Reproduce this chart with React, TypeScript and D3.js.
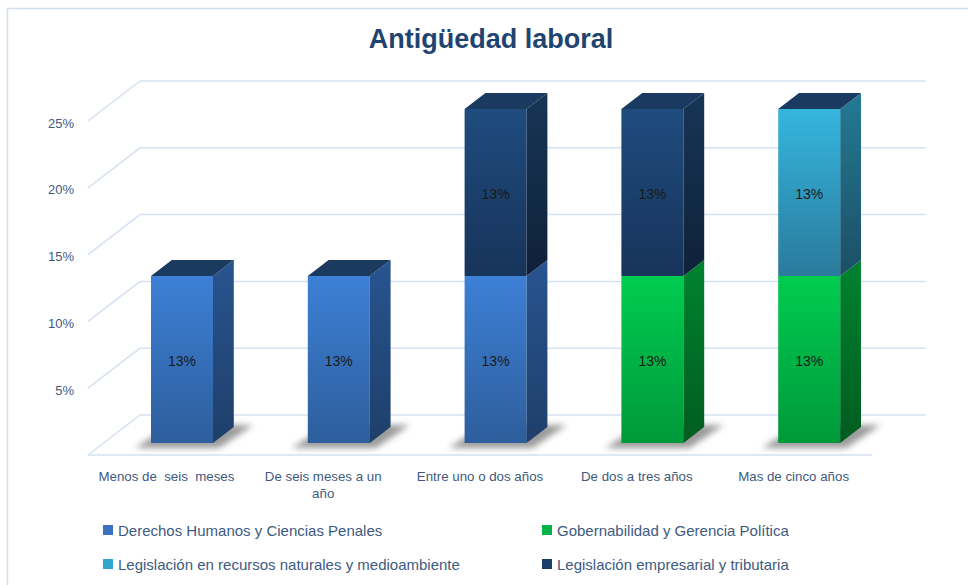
import React from "react";
import * as d3 from "d3";

const categories = [
  "Menos de  seis  meses",
  "De seis meses a un año",
  "Entre uno o dos años",
  "De dos a tres años",
  "Mas de cinco años",
];
const categoryLines = [
  ["Menos de  seis  meses"],
  ["De seis meses a un", "año"],
  ["Entre uno o dos años"],
  ["De dos a tres años"],
  ["Mas de cinco años"],
];
const seriesNames = [
  "Derechos Humanos y Ciencias Penales",
  "Gobernabilidad y Gerencia Política",
  "Legislación en recursos naturales y medioambiente",
  "Legislación empresarial y tributaria",
];
const derechos = [0.125, 0.125, 0.125, 0, 0];
const gobernabilidad = [0, 0, 0, 0.125, 0.125];
const recursos = [0, 0, 0, 0, 0.125];
const empresarial = [0, 0, 0.125, 0.125, 0];
const yTicks = [0.05, 0.1, 0.15, 0.2, 0.25];

const palette = [
  { f1: "#3D80D6", f2: "#2D5E9C", s1: "#285490", s2: "#1E3F69", leg: "#3A72C0" },
  { f1: "#00CC50", f2: "#00993A", s1: "#00832F", s2: "#005C20", leg: "#00B44A" },
  { f1: "#35B6DE", f2: "#2A7A9C", s1: "#247A94", s2: "#1B4F66", leg: "#2FA6CC" },
  { f1: "#1F4B7E", f2: "#17345A", s1: "#173556", s2: "#0F2139", leg: "#1B3E6A" },
];
const topColor = "#1B3A60";

const W = 968;
const H = 585;
const DX = 52; // full depth offset
const DY = -40;
const Z0 = 0.3;
const Z1 = 0.7;
const gridColor = "#D5E1F2";
const textColor = "#3E5A80";

export default function App() {
  const x = d3.scaleBand<string>().domain(categories).range([88, 872]).paddingInner(0).paddingOuter(0);
  const y = d3.scaleLinear().domain([0, 0.25]).range([455, 121]);
  const P = (px: number, v: number, z: number): [number, number] => [px + z * DX, y(v) + z * DY];

  const table = categories.map((c, i) => ({
    cat: c,
    s0: derechos[i],
    s1: gobernabilidad[i],
    s2: recursos[i],
    s3: empresarial[i],
  }));
  const keys = ["s0", "s1", "s2", "s3"];
  const stacked = d3.stack<any>().keys(keys)(table);
  const barW = 62;

  const pts = (arr: [number, number][]) => arr.map((p) => p.join(",")).join(" ");

  const bars: any[] = [];
  categories.forEach((c, i) => {
    const cx = (x(c) as number) + x.bandwidth() / 2;
    const x0 = cx - barW / 2;
    const x1 = cx + barW / 2;
    const segs = stacked
      .map((s, k) => ({ k, lo: s[i][0], hi: s[i][1] }))
      .filter((s) => s.hi - s.lo > 0);
    const total = segs.length ? segs[segs.length - 1].hi : 0;
    const fb = P(x0, 0, Z0);
    const fbr = P(x1, 0, Z0);
    bars.push(
      <g key={c}>
        <polygon
          points={pts([
            [fb[0] - 16, fb[1] + 5],
            [fbr[0] + 6, fbr[1] + 5],
            [fbr[0] + 40, fbr[1] - 18],
            [fb[0] + 20, fb[1] - 18],
          ])}
          fill="#4a4a4a"
          opacity={0.55}
          filter="url(#blur)"
        />
        {segs.map((s) => {
          const a = P(x0, s.lo, Z0);
          const b = P(x1, s.hi, Z0);
          const sideA = P(x1, s.lo, Z0);
          const sideB = P(x1, s.lo, Z1);
          const sideC = P(x1, s.hi, Z1);
          const sideD = P(x1, s.hi, Z0);
          return (
            <g key={s.k}>
              <rect x={a[0]} y={b[1]} width={b[0] - a[0]} height={a[1] - b[1]} fill={`url(#front${s.k})`} />
              <polygon points={pts([sideA, sideB, sideC, sideD])} fill={`url(#side${s.k})`} />
              <text
                x={(a[0] + b[0]) / 2}
                y={(a[1] + b[1]) / 2 + 1}
                textAnchor="middle"
                dominantBaseline="central"
                fontSize={14}
                fill="#1a1a1a"
              >
                {Math.round((s.hi - s.lo) * 100) + "%"}
              </text>
            </g>
          );
        })}
        {total > 0 && (
          <polygon
            points={pts([P(x0, total, Z0), P(x1, total, Z0), P(x1, total, Z1), P(x0, total, Z1)])}
            fill={topColor}
          />
        )}
      </g>
    );
  });

  return (
    <svg
      width={W}
      height={H}
      style={{ position: "absolute", left: 0, top: 0, background: "#fff" }}
      fontFamily="'Liberation Sans', Arial, sans-serif"
    >
      <defs>
        {palette.map((p, k) => (
          <React.Fragment key={k}>
            <linearGradient id={`front${k}`} x1="0" y1="0" x2="0" y2="1">
              <stop offset="0" stopColor={p.f1} />
              <stop offset="1" stopColor={p.f2} />
            </linearGradient>
            <linearGradient id={`side${k}`} x1="0" y1="0" x2="0" y2="1">
              <stop offset="0" stopColor={p.s1} />
              <stop offset="1" stopColor={p.s2} />
            </linearGradient>
          </React.Fragment>
        ))}
        <filter id="blur" x="-50%" y="-50%" width="200%" height="200%">
          <feGaussianBlur stdDeviation="3" />
        </filter>
      </defs>
      <rect x={0} y={0} width={W} height={H} fill="#fff" />
      <rect x={7.5} y={8.5} width={W + 10} height={H + 10} fill="none" stroke="#D3DEEC" strokeWidth={1.5} />

      <text x={491} y={48} textAnchor="middle" fontSize={27} fontWeight="bold" fill="#1F4471">
        Antigüedad laboral
      </text>

      {/* floor and walls */}
      <line x1={P(88, 0, 0)[0]} y1={y(0)} x2={872} y2={y(0)} stroke={gridColor} strokeWidth={1.5} />
      {[0, ...yTicks].map((t) => {
        const f = P(88, t, 0);
        const b = P(88, t, 1);
        return (
          <g key={t}>
            <line x1={f[0]} y1={f[1]} x2={b[0]} y2={b[1]} stroke={gridColor} strokeWidth={1.5} />
            <line x1={b[0]} y1={b[1]} x2={P(872, t, 1)[0] + 2} y2={b[1]} stroke={gridColor} strokeWidth={1.5} />
          </g>
        );
      })}
      {yTicks.map((t) => (
        <text key={t} x={74} y={y(t) + 2} textAnchor="end" dominantBaseline="central" fontSize={13} fill={textColor}>
          {d3.format(".0%")(t)}
        </text>
      ))}

      {bars}

      {categoryLines.map((lines, i) => {
        const cx = (x(categories[i]) as number) + x.bandwidth() / 2;
        return (
          <text key={i} textAnchor="middle" fontSize={13.3} fill={textColor} style={{ whiteSpace: "pre" }}>
            {lines.map((l, j) => (
              <tspan key={j} x={cx} y={481 + j * 17}>
                {l}
              </tspan>
            ))}
          </text>
        );
      })}

      {seriesNames.map((n, k) => {
        const col = k % 2;
        const row = Math.floor(k / 2);
        const lx = col === 0 ? 103 : 542;
        const ly = 530 + row * 34;
        return (
          <g key={n}>
            <rect x={lx} y={ly - 5} width={10} height={10} fill={palette[k].leg} />
            <text x={lx + 15} y={ly} dominantBaseline="central" fontSize={15} fill={textColor}>
              {n}
            </text>
          </g>
        );
      })}
    </svg>
  );
}
